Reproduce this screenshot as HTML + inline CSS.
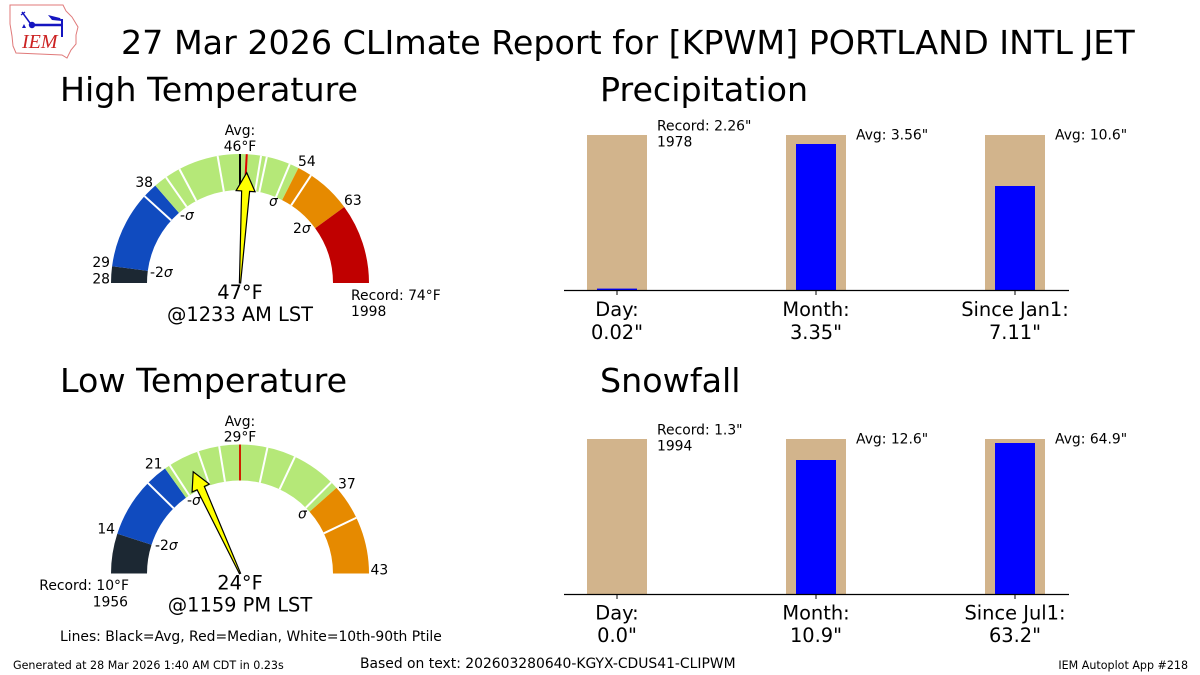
<!DOCTYPE html>
<html>
<head>
<meta charset="utf-8">
<style>
  html,body{margin:0;padding:0;background:#fff;}
  svg{display:block;}
  text{font-family:"DejaVu Sans","Liberation Sans",sans-serif;fill:#000;}
  .s{font-size:13.9px;}
  .m{font-size:19.4px;}
  .sig{font-style:italic;}
  .t{font-size:33.3px;}
</style>
</head>
<body>
<svg width="1200" height="675" viewBox="0 0 1200 675" xmlns="http://www.w3.org/2000/svg">
  <rect x="0" y="0" width="1200" height="675" fill="#fff"/>

  <!-- Logo -->
  <g>
    <path d="M10,5 L63,5 L66,11 L72,17 L78,27 L76,35 L76,44 L71,50 L67,58 L62,55 L16,53 L13,46 L12,36 L10,24 Z" fill="none" stroke="#e07a7a" stroke-width="1"/>
    <line x1="30" y1="25" x2="62" y2="25" stroke="#1515c0" stroke-width="2.5"/>
    <circle cx="32" cy="25" r="3.2" fill="#1515c0"/>
    <line x1="22" y1="12" x2="30" y2="23" stroke="#1515c0" stroke-width="1.5"/>
    <line x1="21" y1="15" x2="25" y2="12" stroke="#1515c0" stroke-width="1.2"/>
    <line x1="62" y1="19" x2="62" y2="37" stroke="#1515c0" stroke-width="2"/>
    <path d="M48,15 L60,18 L62,21 L52,20 Z" fill="#1515c0"/>
    <path d="M22,28 L26,28 L24,24 Z" fill="#1515c0"/>
    <text x="22" y="48" style="font-family:'Liberation Serif',serif;font-style:italic;font-size:20px;fill:#cc2222;">IEM</text>
  </g>

  <!-- Title -->
  <text class="t" x="121" y="54">27 Mar 2026 CLImate Report for [KPWM] PORTLAND INTL JET</text>

  <!-- Subtitles -->
  <text class="t" x="60" y="101">High Temperature</text>
  <text class="t" x="600" y="101">Precipitation</text>
  <text class="t" x="60" y="392">Low Temperature</text>
  <text class="t" x="600" y="392">Snowfall</text>

  <!-- ===== High Temperature gauge ===== -->
  <g fill="none" stroke-width="36">
    <path d="M129,283 A111,111 0 0 1 351,283" pathLength="180" stroke="#1c2833" stroke-dasharray="0 0 7.5 400"/>
    <path d="M129,283 A111,111 0 0 1 351,283" pathLength="180" stroke="#104bbf" stroke-dasharray="0 7.5 41.5 400"/>
    <path d="M129,283 A111,111 0 0 1 351,283" pathLength="180" stroke="#b5e878" stroke-dasharray="0 49 68 400"/>
    <path d="M129,283 A111,111 0 0 1 351,283" pathLength="180" stroke="#e68a00" stroke-dasharray="0 117 27 400"/>
    <path d="M129,283 A111,111 0 0 1 351,283" pathLength="180" stroke="#c00000" stroke-dasharray="0 144 36.5 400"/>
  </g>
  <g stroke="#fff" stroke-width="2">
    <line x1="147" y1="283" x2="111" y2="283" transform="rotate(42.3 240 283)"/>
    <line x1="147" y1="283" x2="111" y2="283" transform="rotate(55 240 283)"/>
    <line x1="147" y1="283" x2="111" y2="283" transform="rotate(62 240 283)"/>
    <line x1="147" y1="283" x2="111" y2="283" transform="rotate(80 240 283)"/>
    <line x1="147" y1="283" x2="111" y2="283" transform="rotate(99.4 240 283)"/>
    <line x1="147" y1="283" x2="111" y2="283" transform="rotate(102 240 283)"/>
    <line x1="147" y1="283" x2="111" y2="283" transform="rotate(112.7 240 283)"/>
    <line x1="147" y1="283" x2="111" y2="283" transform="rotate(123.4 240 283)"/>
  </g>
  <line x1="147" y1="283" x2="111" y2="283" stroke="#000" stroke-width="2" transform="rotate(90 240 283)"/>
  <line x1="147" y1="283" x2="111" y2="283" stroke="#e00000" stroke-width="2" transform="rotate(93 240 283)"/>
  <g transform="translate(240,283) rotate(93.5)">
    <polygon points="0,-0.6 -92,-4 -92,-9.5 -110.5,0 -92,9.5 -92,4 0,0.6" fill="#ffff00" stroke="#000" stroke-width="1.2" stroke-linejoin="miter"/>
  </g>
  <text class="s" x="240" y="135" text-anchor="middle">Avg:</text>
  <text class="s" x="240" y="151" text-anchor="middle">46°F</text>
  <text class="s" x="110" y="267" text-anchor="end">29</text>
  <text class="s" x="110" y="283.5" text-anchor="end">28</text>
  <text class="s" x="153" y="187" text-anchor="end">38</text>
  <text class="s" x="298" y="166">54</text>
  <text class="s" x="344" y="205">63</text>
  <text class="s" x="180" y="220">-<tspan class="sig">σ</tspan></text>
  <text class="s sig" x="269" y="206">σ</text>
  <text class="s" x="293" y="233">2<tspan class="sig">σ</tspan></text>
  <text class="s" x="150" y="277">-2<tspan class="sig">σ</tspan></text>
  <text class="s" x="351" y="300">Record: 74°F</text>
  <text class="s" x="351" y="316">1998</text>
  <text class="m" x="240" y="299" text-anchor="middle">47°F</text>
  <text class="m" x="240" y="321" text-anchor="middle">@1233 AM LST</text>

  <!-- ===== Low Temperature gauge ===== -->
  <g fill="none" stroke-width="36">
    <path d="M129,573.5 A111,111 0 0 1 351,573.5" pathLength="180" stroke="#1c2833" stroke-dasharray="0 0 18 400"/>
    <path d="M129,573.5 A111,111 0 0 1 351,573.5" pathLength="180" stroke="#104bbf" stroke-dasharray="0 18 36.5 400"/>
    <path d="M129,573.5 A111,111 0 0 1 351,573.5" pathLength="180" stroke="#b5e878" stroke-dasharray="0 54.5 84 400"/>
    <path d="M129,573.5 A111,111 0 0 1 351,573.5" pathLength="180" stroke="#e68a00" stroke-dasharray="0 138.5 42 400"/>
  </g>
  <g stroke="#fff" stroke-width="2">
    <line x1="147" y1="573.5" x2="111" y2="573.5" transform="rotate(44.5 240 573.5)"/>
    <line x1="147" y1="573.5" x2="111" y2="573.5" transform="rotate(57 240 573.5)"/>
    <line x1="147" y1="573.5" x2="111" y2="573.5" transform="rotate(71 240 573.5)"/>
    <line x1="147" y1="573.5" x2="111" y2="573.5" transform="rotate(80.7 240 573.5)"/>
    <line x1="147" y1="573.5" x2="111" y2="573.5" transform="rotate(102.3 240 573.5)"/>
    <line x1="147" y1="573.5" x2="111" y2="573.5" transform="rotate(115.2 240 573.5)"/>
    <line x1="147" y1="573.5" x2="111" y2="573.5" transform="rotate(135 240 573.5)"/>
    <line x1="147" y1="573.5" x2="111" y2="573.5" transform="rotate(154.4 240 573.5)"/>
  </g>
  <line x1="147" y1="573.5" x2="111" y2="573.5" stroke="#000" stroke-width="2" transform="rotate(90 240 573.5)"/>
  <line x1="147" y1="573.5" x2="111" y2="573.5" stroke="#d02000" stroke-width="2" transform="rotate(90 240 573.5)"/>
  <text class="s" x="240" y="426" text-anchor="middle">Avg:</text>
  <text class="s" x="240" y="441.7" text-anchor="middle">29°F</text>
  <text class="s" x="162.5" y="468.5" text-anchor="end">21</text>
  <text class="s" x="115" y="533.5" text-anchor="end">14</text>
  <text class="s" x="338" y="488.5">37</text>
  <text class="s" x="370.5" y="574.5">43</text>
  <text class="s" x="187" y="505">-<tspan class="sig">σ</tspan></text>
  <text class="s sig" x="298" y="518.5">σ</text>
  <text class="s" x="155" y="550">-2<tspan class="sig">σ</tspan></text>
  <g transform="translate(240,573.5) rotate(65.3)">
    <polygon points="0,-0.6 -94,-4 -94,-9.5 -112,0 -94,9.5 -94,4 0,0.6" fill="#ffff00" stroke="#000" stroke-width="1.2" stroke-linejoin="miter"/>
  </g>
  <text class="s" x="129" y="590" text-anchor="end">Record: 10°F</text>
  <text class="s" x="128" y="606.5" text-anchor="end">1956</text>
  <text class="m" x="240" y="589.5" text-anchor="middle">24°F</text>
  <text class="m" x="240" y="611.7" text-anchor="middle">@1159 PM LST</text>

  <!-- ===== Precipitation ===== -->
  <rect x="587" y="135" width="60" height="155" fill="#d2b48c"/>
  <rect x="597" y="288.6" width="40" height="1.4" fill="#0000ff"/>
  <rect x="786" y="135" width="60" height="155" fill="#d2b48c"/>
  <rect x="796" y="144" width="40" height="146" fill="#0000ff"/>
  <rect x="985" y="135" width="60" height="155" fill="#d2b48c"/>
  <rect x="995" y="186" width="40" height="104" fill="#0000ff"/>
  <line x1="564" y1="290.5" x2="1069" y2="290.5" stroke="#000" stroke-width="1.2"/>
  <g stroke="#000" stroke-width="1">
    <line x1="617" y1="291" x2="617" y2="295"/>
    <line x1="816" y1="291" x2="816" y2="295"/>
    <line x1="1015" y1="291" x2="1015" y2="295"/>
  </g>
  <text class="s" x="657" y="130.7">Record: 2.26"</text>
  <text class="s" x="657" y="146.7">1978</text>
  <text class="s" x="856" y="139.3">Avg: 3.56"</text>
  <text class="s" x="1055" y="139.3">Avg: 10.6"</text>
  <text class="m" x="617" y="316" text-anchor="middle">Day:</text>
  <text class="m" x="617" y="339" text-anchor="middle">0.02"</text>
  <text class="m" x="816" y="316" text-anchor="middle">Month:</text>
  <text class="m" x="816" y="339" text-anchor="middle">3.35"</text>
  <text class="m" x="1015" y="316" text-anchor="middle">Since Jan1:</text>
  <text class="m" x="1015" y="339" text-anchor="middle">7.11"</text>

  <!-- ===== Snowfall ===== -->
  <rect x="587" y="439" width="60" height="155" fill="#d2b48c"/>
  <rect x="786" y="439" width="60" height="155" fill="#d2b48c"/>
  <rect x="796" y="460" width="40" height="134" fill="#0000ff"/>
  <rect x="985" y="439" width="60" height="155" fill="#d2b48c"/>
  <rect x="995" y="443" width="40" height="151" fill="#0000ff"/>
  <line x1="564" y1="594.5" x2="1069" y2="594.5" stroke="#000" stroke-width="1.2"/>
  <g stroke="#000" stroke-width="1">
    <line x1="617" y1="595" x2="617" y2="599"/>
    <line x1="816" y1="595" x2="816" y2="599"/>
    <line x1="1015" y1="595" x2="1015" y2="599"/>
  </g>
  <text class="s" x="657" y="434.3">Record: 1.3"</text>
  <text class="s" x="657" y="450.3">1994</text>
  <text class="s" x="856" y="443.3">Avg: 12.6"</text>
  <text class="s" x="1055" y="443.3">Avg: 64.9"</text>
  <text class="m" x="617" y="619.5" text-anchor="middle">Day:</text>
  <text class="m" x="617" y="642" text-anchor="middle">0.0"</text>
  <text class="m" x="816" y="619.5" text-anchor="middle">Month:</text>
  <text class="m" x="816" y="642" text-anchor="middle">10.9"</text>
  <text class="m" x="1015" y="619.5" text-anchor="middle">Since Jul1:</text>
  <text class="m" x="1015" y="642" text-anchor="middle">63.2"</text>

  <!-- Footer -->
  <text class="s" x="60" y="641">Lines: Black=Avg, Red=Median, White=10th-90th Ptile</text>
  <text x="13" y="669" style="font-size:11.1px;">Generated at 28 Mar 2026 1:40 AM CDT in 0.23s</text>
  <text class="s" x="360" y="668">Based on text: 202603280640-KGYX-CDUS41-CLIPWM</text>
  <text x="1188" y="669" text-anchor="end" style="font-size:11.1px;">IEM Autoplot App #218</text>
</svg>
</body>
</html>
